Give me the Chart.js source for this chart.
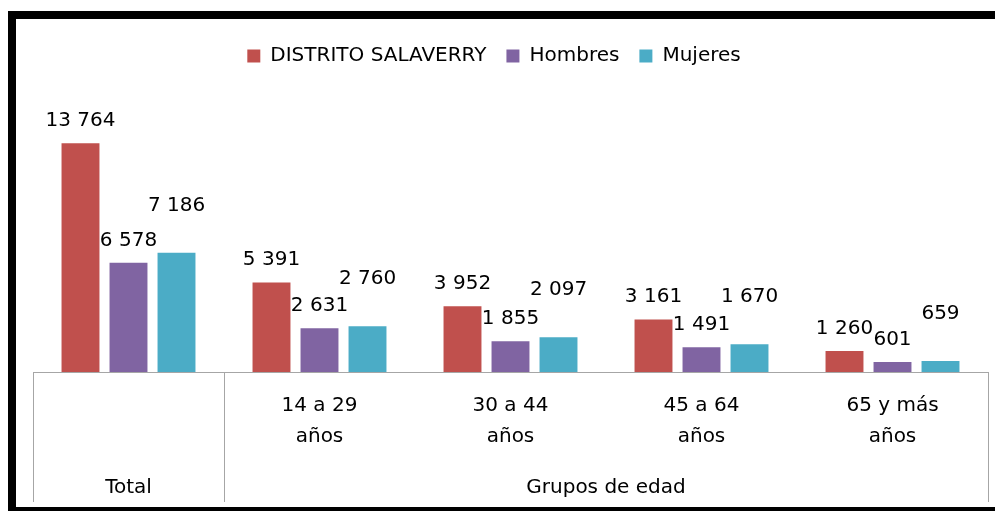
<!DOCTYPE html>
<html>
<head>
<meta charset="utf-8">
<script src="https://cdn.jsdelivr.net/npm/chart.js@4/dist/chart.umd.min.js"></script>
<style>
  html, body { margin: 0; padding: 0; background: #fff; }
  #wrap { position: relative; width: 995px; height: 511px; overflow: hidden; }
  #chart { position: absolute; left: 0; top: 0; }
  .edge { position: absolute; background: #000; }
</style>
</head>
<body>
<div id="wrap">
  <canvas id="chart" width="995" height="511"></canvas>
  <div class="edge" style="left:8px; top:11px; width:987px; height:8px;"></div>
  <div class="edge" style="left:8px; top:11px; width:8px; height:500px;"></div>
  <div class="edge" style="left:8px; top:507px; width:987px; height:4px;"></div>
</div>
<script>
// categories (first level) and outer groups
const categories = [["", ""], ["14 a 29", "años"], ["30 a 44", "años"], ["45 a 64", "años"], ["65 y más", "años"]];
const groupNames = ["Total", "Grupos de edad"];
const groupSpans = [[0, 0], [1, 4]];  // first and last category index of each group

const seriesNames = ["DISTRITO SALAVERRY", "Hombres", "Mujeres"];
const distrito = [13764, 5391, 3952, 3161, 1260];
const hombres = [6578, 2631, 1855, 1491, 601];
const mujeres = [7186, 2760, 2097, 1670, 659];

const colors = ["#C0504D", "#8064A2", "#4BACC6"];
const labelLift = [17, 17, 42];  // how far above the bar top each series' label sits

const FONT = "'DejaVu Sans', sans-serif";
Chart.defaults.font.family = FONT;
Chart.defaults.font.size = 20;
Chart.defaults.color = "#000";

function fmt(v) {
    // thousands separated with a space
    return String(v).replace(/\B(?=(\d{3})+(?!\d))/g, " ");
}

// value labels above each bar
const barLabels = {
    id: "barLabels",
    afterDatasetsDraw(chart) {
        const ctx = chart.ctx;
        ctx.save();
        ctx.font = "20px " + FONT;
        ctx.fillStyle = "#000";
        ctx.textAlign = "center";
        ctx.textBaseline = "alphabetic";
        chart.data.datasets.forEach((ds, i) => {
            chart.getDatasetMeta(i).data.forEach((bar, j) => {
                ctx.fillText(fmt(ds.data[j]), bar.x, bar.y - labelLift[i]);
            });
        });
        ctx.restore();
    }
};

// second level of the category axis: separators and group names
const groupAxis = {
    id: "groupAxis",
    afterDraw(chart) {
        const ctx = chart.ctx;
        const x = chart.scales.x;
        const top = chart.chartArea.bottom;
        const bottom = 502;
        const half = (x.getPixelForValue(1) - x.getPixelForValue(0)) / 2;
        ctx.save();
        ctx.strokeStyle = "#A6A6A6";
        ctx.lineWidth = 1;
        const edges = [x.left];
        groupSpans.forEach(s => edges.push(x.getPixelForValue(s[1]) + half));
        edges.forEach((px, k) => {
            const xx = Math.round(k === edges.length - 1 ? x.right : px) + 0.5;
            ctx.beginPath();
            ctx.moveTo(xx, top);
            ctx.lineTo(xx, bottom);
            ctx.stroke();
        });
        ctx.font = "20px " + FONT;
        ctx.fillStyle = "#000";
        ctx.textAlign = "center";
        ctx.textBaseline = "alphabetic";
        groupSpans.forEach((s, k) => {
            const cx = (x.getPixelForValue(s[0]) + x.getPixelForValue(s[1])) / 2;
            ctx.fillText(groupNames[k], cx, 493);
        });
        ctx.restore();
    }
};

new Chart(document.getElementById("chart"), {
    type: "bar",
    data: {
        labels: categories,
        datasets: [
            { label: seriesNames[0], data: distrito, backgroundColor: colors[0] },
            { label: seriesNames[1], data: hombres, backgroundColor: colors[1] },
            { label: seriesNames[2], data: mujeres, backgroundColor: colors[2] }
        ]
    },
    options: {
        responsive: false,
        animation: false,
        events: [],
        layout: { padding: { top: 26, right: 7, bottom: 41, left: 0 } },
        datasets: {
            bar: { categoryPercentage: 0.754, barPercentage: 0.79 }
        },
        plugins: {
            legend: {
                position: "top",
                labels: {
                    boxWidth: 13,
                    boxHeight: 13,
                    padding: 20,
                    font: { size: 20 },
                    color: "#000"
                }
            },
            tooltip: { enabled: false }
        },
        scales: {
            x: {
                grid: { display: false, drawTicks: false },
                border: { display: true, color: "#A6A6A6", width: 1 },
                ticks: {
                    padding: 18,
                    maxRotation: 0,
                    autoSkip: false,
                    font: { size: 20, lineHeight: 1.55 },
                    color: "#000"
                }
            },
            y: {
                min: 0,
                max: 17820,
                grid: { display: false },
                border: { display: false },
                ticks: { display: false },
                afterFit(scale) { scale.width = 33; }
            }
        }
    },
    plugins: [barLabels, groupAxis]
});
</script>
</body>
</html>
